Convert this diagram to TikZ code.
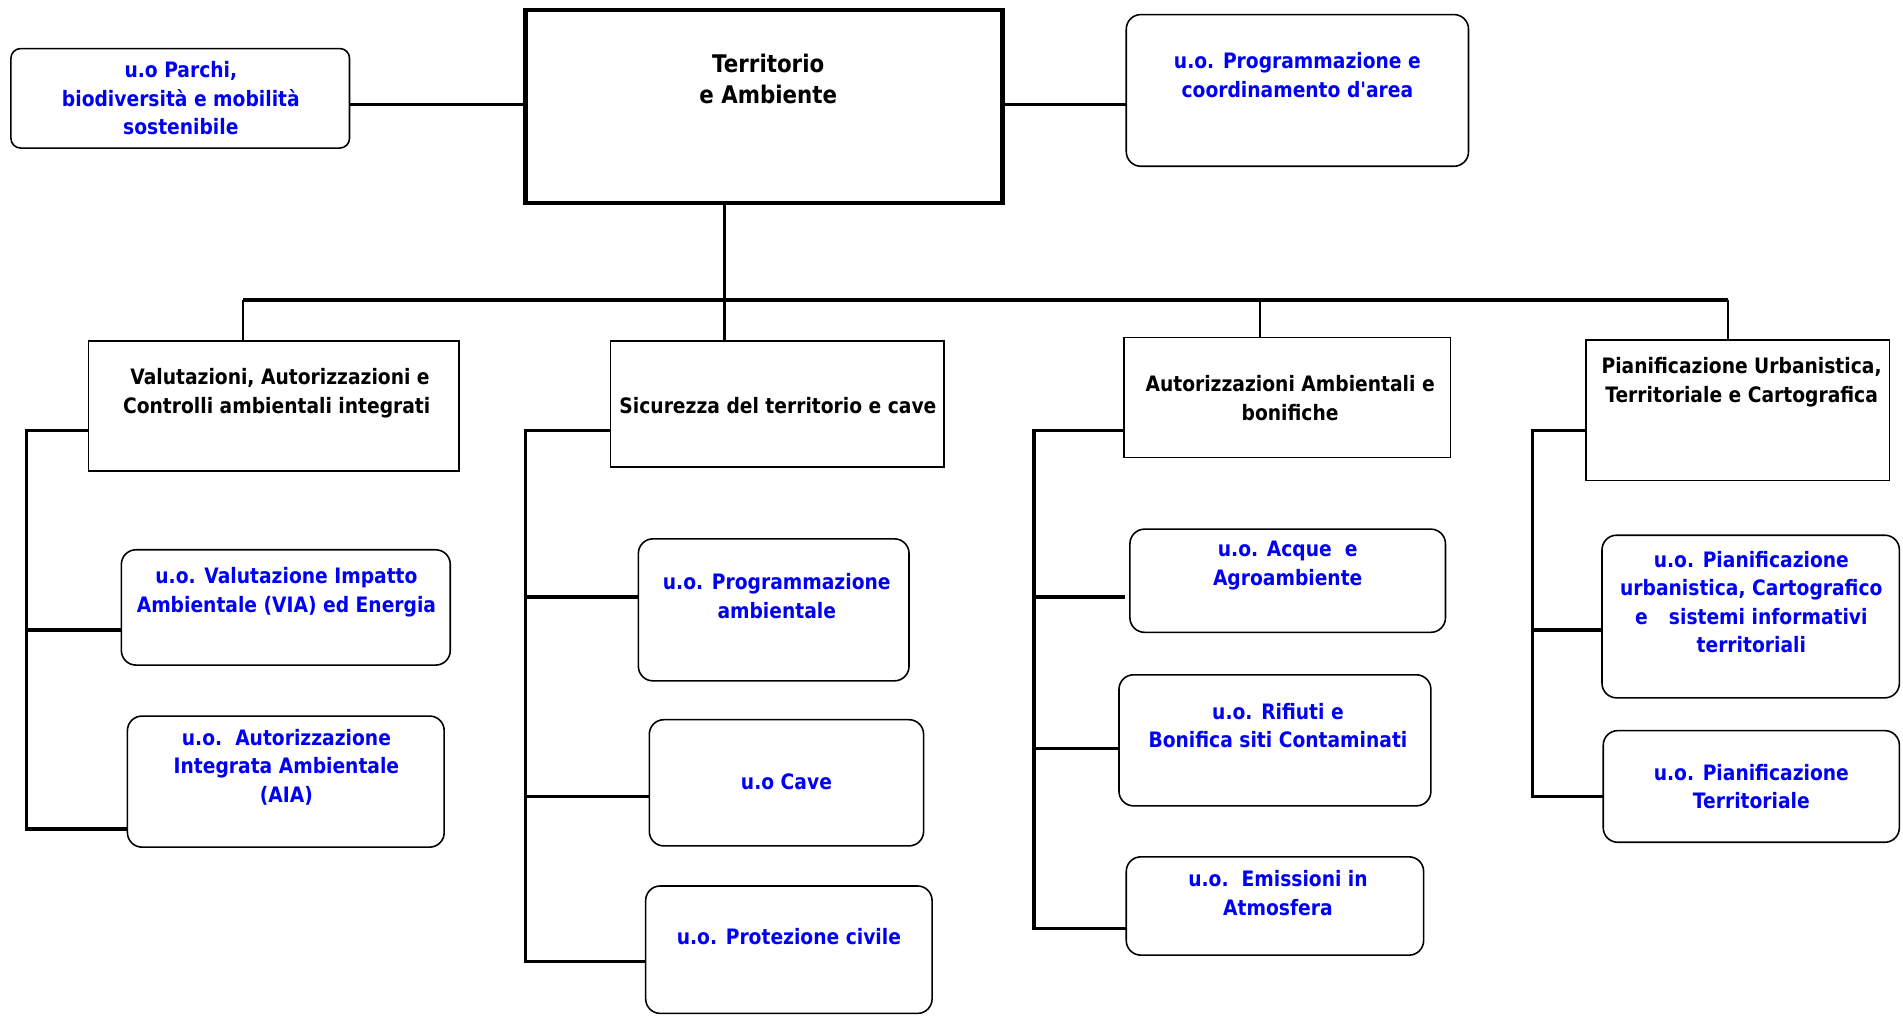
\documentclass[tikz,border=0pt]{standalone}
\usepackage{fontspec}
\newfontfamily\orgfont{DejaVu Sans}[FakeStretch=0.88]
\definecolor{uoblue}{RGB}{0,0,245}
\begin{document}
\begin{tikzpicture}[x=1pt,y=-1pt,
  every node/.style={inner sep=0pt,outer sep=0pt},
  txt/.style={align=center,font=\orgfont\bfseries\fontsize{17.5}{23.5}\selectfont},
  headbox/.style={draw,line width=3.5pt,fill=white},
  headbox text/.style={txt,text=black,font=\orgfont\bfseries\fontsize{20}{26}\selectfont},
  areabox/.style={draw,line width=1.3pt,fill=white},
  areabox text/.style={txt,text=black},
  unitbox/.style={draw,line width=1.3pt,fill=white,rounded corners=12pt},
  unitbox text/.style={txt,text=uoblue},
  smallunit/.style={unitbox,rounded corners=8pt},
  smallunit text/.style={txt,text=uoblue},
  link/.style={line width=2.7pt},
  drop/.style={line width=1.9pt},
  bar/.style={line width=2.9pt}]

% canvas
\useasboundingbox (0,0) rectangle (1568,837);

% box with its own text block: style, name, x1, y1, x2, y2, text x, text y, text
\newcommand{\orgunit}[9]{%
  \node[#1,minimum width={#5-#3},minimum height={#6-#4}] (#2) at ({(#3+#5)/2},{(#4+#6)/2}) {};
  \node[#1 text] (#2-t) at (#7,#8) {#9};}

% ---- top level ----
\orgunit{headbox}{top}{433}{8}{826}{167}{633}{65}{Territorio\\e Ambiente}
\orgunit{smallunit}{parchi}{9}{40}{288}{122}{149}{81}{u.o Parchi,\\biodiversità e mobilità\\sostenibile}
\orgunit{unitbox}{coord}{928}{12}{1210}{137}{1069}{62}{u.o. Programmazione e\\coordinamento d'area}

% ---- areas ----
\orgunit{areabox}{valut}{73}{281}{378}{388}{228}{324}{\ Valutazioni, Autorizzazioni e\\Controlli ambientali integrati}
\orgunit{areabox}{sicur}{503}{281}{778}{385}{641}{334}{Sicurezza del territorio e cave}
\orgunit{areabox}{autor}{926}{278}{1195}{377}{1063}{328}{Autorizzazioni Ambientali e\\bonifiche}
\orgunit{areabox}{pianif}{1307}{280}{1557}{396}{1435}{315}{Pianificazione Urbanistica,\\Territoriale e Cartografica}

% ---- units ----
\orgunit{unitbox}{via}{100}{453}{371}{548}{236}{488}{u.o. Valutazione Impatto\\Ambientale (VIA) ed Energia}
\orgunit{unitbox}{aia}{105}{590}{366}{698}{236}{632}{u.o.\ \ Autorizzazione\\Integrata Ambientale\\(AIA)}
\orgunit{unitbox}{progamb}{526}{444}{749}{561}{640}{491}{u.o. Programmazione\\ambientale}
\orgunit{unitbox}{cave}{535}{593}{761}{697}{648}{644}{u.o Cave}
\orgunit{unitbox}{protciv}{532}{730}{768}{835}{650}{772}{u.o. Protezione civile}
\orgunit{unitbox}{acque}{931}{436}{1191}{521}{1061}{466}{u.o. Acque\ \ e\\Agroambiente}
\orgunit{unitbox}{rifiuti}{922}{556}{1179}{664}{1053}{598}{u.o. Rifiuti e\\Bonifica siti Contaminati}
\orgunit{unitbox}{emiss}{928}{706}{1173}{787}{1053}{736}{u.o.\ \ Emissioni in\\Atmosfera}
\orgunit{unitbox}{pianurb}{1320}{441}{1565}{575}{1443}{496}{u.o. Pianificazione\\urbanistica, Cartografico\\e\quad sistemi informativi\\territoriali}
\orgunit{unitbox}{pianterr}{1321}{602}{1565}{694}{1443}{648}{u.o. Pianificazione\\Territoriale}

% ---- connectors: top level ----
\draw[link] (parchi.east |- 0,86) coordinate (pj) -- (top.west |- pj);
\draw[link] (top.east |- 0,86) coordinate (cj) -- (coord.west |- cj);

\coordinate (hub) at (597,247);
\coordinate (barL) at (200,247);
\coordinate (barM) at (1038,247);
\coordinate (barR) at (1424,247);
\draw[drop] (top.south -| hub) -- (hub);
\draw[bar] (barL) -- (barR);
\draw[drop] (barL) -- (barL |- valut.north);
\draw[drop] (hub) -- (hub |- sicur.north);
\draw[drop] (barM) -- (barM |- autor.north);
\draw[drop] (barR) -- (barR |- pianif.north);

% ---- connectors: areas to units ----
\coordinate (ra) at (22,355);
\coordinate (ra1) at (22,519);
\coordinate (ra2) at (22,683);
\draw[link] (valut.west |- ra) -- (ra) -- (ra2) -- (aia.west |- ra2);
\draw[link] (ra1) -- (via.west |- ra1);

\coordinate (rb) at (433,355);
\coordinate (rb1) at (433,492);
\coordinate (rb2) at (433,656);
\coordinate (rb3) at (433,792);
\draw[link] (sicur.west |- rb) -- (rb) -- (rb3) -- (protciv.west |- rb3);
\draw[link] (rb1) -- (progamb.west |- rb1);
\draw[link] (rb2) -- (cave.west |- rb2);

\coordinate (rc) at (852,355);
\coordinate (rc1) at (852,492);
\coordinate (rc2) at (852,617);
\coordinate (rc3) at (852,765);
\draw[link] (autor.west |- rc) -- (rc) -- (rc3) -- (emiss.west |- rc3);
\draw[link] (rc1) -- ([xshift=-4pt]acque.west |- rc1);
\draw[link] (rc2) -- (rifiuti.west |- rc2);

\coordinate (rd) at (1263,355);
\coordinate (rd1) at (1263,519);
\coordinate (rd2) at (1263,656);
\draw[link] (pianif.west |- rd) -- (rd) -- (rd2) -- (pianterr.west |- rd2);
\draw[link] (rd1) -- (pianurb.west |- rd1);
\end{tikzpicture}
\end{document}
